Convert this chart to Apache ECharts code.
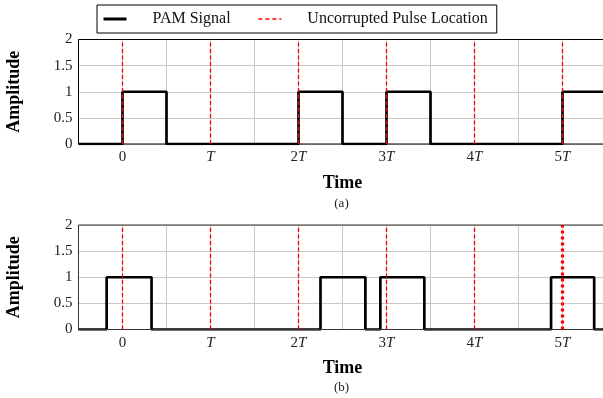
<!DOCTYPE html>
<html><head><meta charset="utf-8">
<script src="https://cdn.jsdelivr.net/npm/echarts@6/dist/echarts.min.js"></script>
<style>html,body{margin:0;padding:0;background:#fff}#c{width:603px;height:398px}</style>
</head><body><div id="c"></div>
<script>
// ---- data ----
const pulseLocations = [0, 1, 2, 3, 4, 5];          // in units of T
const signalA = [[-0.5,0],[0,0],[0,1],[0.5,1],[0.5,0],[2,0],[2,1],[2.5,1],[2.5,0],[3,0],[3,1],[3.5,1],[3.5,0],[5,0],[5,1],[5.5,1]];
const signalB = [[-0.5,0],[-0.18,0],[-0.18,1],[0.33,1],[0.33,0],[2.25,0],[2.25,1],[2.76,1],[2.76,0],[2.93,0],[2.93,1],[3.43,1],[3.43,0],[4.87,0],[4.87,1],[5.36,1],[5.36,0],[5.5,0]];
const emphasizedLocationB = 5;
const yTicks = [0, 0.5, 1, 1.5, 2];
const seriesNames = ['PAM Signal', 'Uncorrupted Pulse Location'];

const serif = 'Liberation Serif';
const chart = echarts.init(document.getElementById('c'));

function xLabel(v) {
  if (Math.abs(v - Math.round(v)) > 1e-6) return '';
  const n = Math.round(v);
  if (n === 0) return '{n|0}';
  if (n === 1) return '{t|T}';
  return '{n|' + n + '}{t|T}';
}
function mkX(gi) {
  return {
    type: 'value', gridIndex: gi, min: -0.5, max: 5.5, interval: 0.5,
    name: 'Time', nameLocation: 'middle', nameGap: 30,
    nameTextStyle: {fontFamily: serif, fontWeight: 'bold', fontSize: 18, color: '#000'},
    axisLine: {show: false}, axisTick: {show: false},
    axisLabel: {formatter: xLabel, margin: 6, rich: {
      n: {fontFamily: serif, fontSize: 15, color: '#222'},
      t: {fontFamily: serif, fontSize: 15, fontStyle: 'italic', color: '#222'}}},
    splitLine: {show: true, lineStyle: {color: '#c8c8c8', width: 1}}
  };
}
function mkY(gi) {
  return {
    type: 'value', gridIndex: gi, min: 0, max: 2, interval: 0.5,
    name: 'Amplitude', nameLocation: 'middle', nameGap: 55,
    nameTextStyle: {fontFamily: serif, fontWeight: 'bold', fontSize: 18, color: '#000'},
    axisLine: {show: false}, axisTick: {show: false},
    axisLabel: {fontFamily: serif, fontSize: 15, color: '#222', margin: 6},
    splitLine: {show: true, lineStyle: {color: '#c8c8c8', width: 1}}
  };
}
const series = [];
[signalA, signalB].forEach((sig, gi) => {
  series.push({name: seriesNames[0], type: 'line', xAxisIndex: gi, yAxisIndex: gi, data: sig,
    symbol: 'none', lineStyle: {color: '#000', width: 2.7}, itemStyle: {color: '#000'}, z: 3, animation: false});
});
[0, 1].forEach(gi => {
  pulseLocations.forEach(p => {
    const emph = gi === 1 && p === emphasizedLocationB;
    series.push({name: seriesNames[1], type: 'line', xAxisIndex: gi, yAxisIndex: gi,
      data: [[p, 0], [p, 2]], symbol: 'none', animation: false, z: emph ? 6 : 5,
      itemStyle: {color: '#ff0000'},
      lineStyle: {color: '#ff0000', width: emph ? 3.2 : 1.3, type: emph ? [3, 3] : [4, 2.5]}});
  });
});

chart.setOption({
  animation: false,
  legend: {
    data: [
      {name: seriesNames[0], lineStyle: {width: 3, color: '#000'}},
      {name: seriesNames[1], lineStyle: {width: 1.5, color: '#ff0000', type: [4, 3]}}
    ],
    left: 97, top: 5, orient: 'horizontal',
    borderColor: '#000', borderWidth: 1, borderRadius: 0,
    padding: [6, 9, 6, 5], itemGap: 27, itemWidth: 23, itemHeight: 14,
    itemStyle: {color: 'transparent', borderWidth: 0, opacity: 0},
    textStyle: {fontFamily: serif, fontSize: 16, color: '#111', padding: [0, 0, 0, 21]},
    selectedMode: false
  },
  grid: [
    {left: 78.5, top: 39.5, width: 528, height: 104.5, outerBoundsMode: 'none', show: true, z: 4, borderColor: '#000', borderWidth: 1, backgroundColor: 'transparent'},
    {left: 78.5, top: 225, width: 528, height: 104.5, outerBoundsMode: 'none', show: true, z: 4, borderColor: '#333', borderWidth: 1, backgroundColor: 'transparent'}
  ],
  xAxis: [mkX(0), mkX(1)],
  yAxis: [mkY(0), mkY(1)],
  graphic: [
    {type: 'text', x: 341.5, y: 197, style: {text: '(a)', font: '13px "Liberation Serif"', fill: '#222', align: 'center'}},
    {type: 'text', x: 341.5, y: 381, style: {text: '(b)', font: '13px "Liberation Serif"', fill: '#222', align: 'center'}}
  ],
  series: series
});
</script></body></html>
